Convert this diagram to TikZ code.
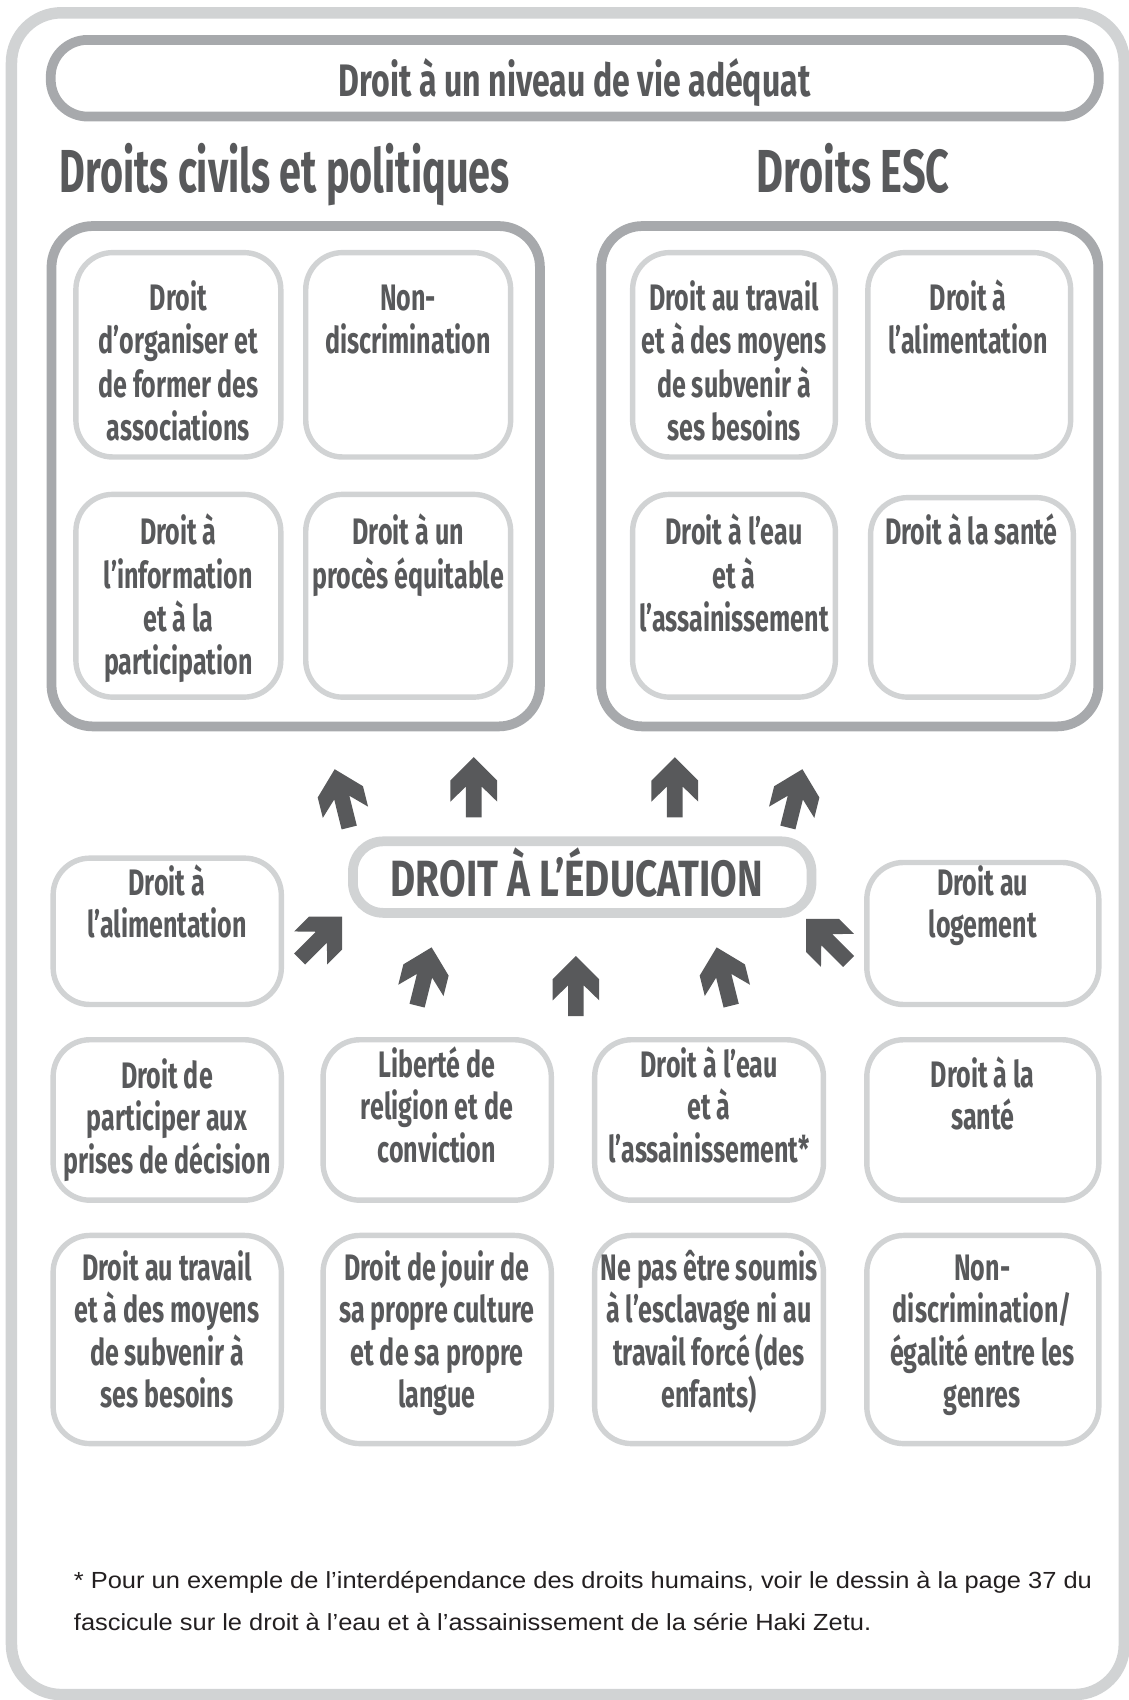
\documentclass[tikz,border=0pt]{standalone}
\usepackage{fontspec}
\usepackage{graphicx}
\newfontfamily\handfont[FakeStretch=0.68]{Fira Sans}
\newfontfamily\notefont{Liberation Sans}
\definecolor{lightg}{HTML}{D1D3D4}
\definecolor{midg}{HTML}{A7A9AC}
\definecolor{darkg}{HTML}{58595B}
\definecolor{notec}{HTML}{231F20}
\tikzset{
  frame/.style={draw=lightg,line width=10.6pt,rounded corners=46pt,inner sep=0pt,outer sep=0pt},
  banner/.style={draw=midg,line width=9pt,rounded corners=34pt,inner sep=0pt,outer sep=0pt},
  grp/.style={draw=midg,line width=9pt,rounded corners=38pt,inner sep=0pt,outer sep=0pt},
  cell/.style={draw=lightg,line width=5pt,rounded corners=34pt,inner sep=0pt,outer sep=0pt},
  edu/.style={draw=lightg,line width=9pt,rounded corners=28pt,inner sep=0pt,outer sep=0pt},
  lbl/.style={text=darkg,align=center,anchor=base,inner sep=0pt,font=\handfont\bfseries\fontsize{34}{40}\selectfont},
  lblb/.style={lbl,font=\handfont\bfseries\fontsize{34}{39}\selectfont},
  title/.style={text=darkg,anchor=base,inner sep=0pt,font=\handfont\bfseries\fontsize{56}{60}\selectfont},
  uparrow/.pic={\fill[darkg] (0pt,0pt) -- (21.5pt,-21.5pt) -- (21.5pt,-40.9pt) -- (7.2pt,-27pt) -- (7.2pt,-55.4pt) -- (-7.2pt,-55.4pt) -- (-7.2pt,-27pt) -- (-21.5pt,-40.9pt) -- (-21.5pt,-21.5pt) -- cycle;}
}
\begin{document}
\begin{tikzpicture}[x=1pt,y=-1pt]
\useasboundingbox (0,0) rectangle (1041,1568);
% outer frame
\node[frame,minimum width=1026.4pt,minimum height=1551.2pt] (frame) at (523.8,787.4) {};
% banner
\node[banner,minimum width=966.7pt,minimum height=70.7pt] (banner) at (530.15,72.15) {};
\node[title,font=\handfont\bfseries\fontsize{42}{46}\selectfont] (bannertxt) at (530,89) {\resizebox{435pt}{\height}{Droit à un niveau de vie adéquat}};
% titles
\node[title] (tcp) at (262.5,178) {\resizebox{415pt}{\height}{Droits civils et politiques}};
\node[title] (tesc) at (787,178) {\resizebox{178pt}{\height}{Droits ESC}};
% groups
\node[grp,minimum width=450.5pt,minimum height=461.5pt] (g1) at (272.75,439.25) {};
\node[grp,minimum width=458.5pt,minimum height=461.5pt] (g2) at (783.75,439.25) {};
% top cells
\node[cell,minimum width=189pt,minimum height=188.5pt] (c1) at (164.5,327.25) {};
\node[cell,minimum width=189pt,minimum height=188.5pt] (c2) at (376.5,327.25) {};
\node[cell,minimum width=189pt,minimum height=187pt] (c3) at (164.5,549.5) {};
\node[cell,minimum width=189pt,minimum height=187pt] (c4) at (376.5,549.5) {};
\node[cell,minimum width=187pt,minimum height=188.5pt] (c5) at (677,327.25) {};
\node[cell,minimum width=187pt,minimum height=188.5pt] (c6) at (894,327.25) {};
\node[cell,minimum width=187pt,minimum height=187pt] (c7) at (677,549.5) {};
\node[cell,minimum width=187pt,minimum height=184pt] (c8) at (896.5,551) {};
\node[lbl] (t1) at (164.5,406.5) {Droit\\d’organiser et\\de former des\\associations};
\node[lbl] (t2) at (376.5,326.5) {Non-\\discrimination};
\node[lbl] (t3) at (164.5,622.5) {Droit à\\l’information\\et à la\\participation};
\node[lbl] (t4) at (376.5,542.5) {Droit à un\\procès équitable};
\node[lbl] (t5) at (677,406.5) {Droit au travail\\et à des moyens\\de subvenir à\\ses besoins};
\node[lbl] (t6) at (893,326.5) {Droit à\\l’alimentation};
\node[lbl] (t7) at (677,582.5) {Droit à l’eau\\et à\\l’assainissement};
\node[lbl] (t8) at (896,502.5) {Droit à la santé};
% education
\node[edu,minimum width=423pt,minimum height=66pt] (edu) at (537,809) {};
\node[title,font=\handfont\bfseries\fontsize{47}{50}\selectfont] (edutxt) at (532,826.8) {\resizebox{343pt}{\height}{DROIT À L’ÉDUCATION}};
% arrows
\pic[rotate=14] at (308.7,709.5) {uparrow};
\pic at (437,698.4) {uparrow};
\pic at (622.4,698.4) {uparrow};
\pic[rotate=-14] at (740.1,709.5) {uparrow};
\pic[rotate=-45] at (315.5,845.4) {uparrow};
\pic[rotate=-14] at (398.1,873.8) {uparrow};
\pic at (531.2,881.8) {uparrow};
\pic[rotate=14] at (661,873.8) {uparrow};
\pic[rotate=45] at (743.5,847.6) {uparrow};
% bottom cells
\node[cell,minimum width=210.5pt,minimum height=135pt] (r1a) at (154.25,859) {};
\node[cell,minimum width=214pt,minimum height=131pt] (r1b) at (906.5,861) {};
\node[cell,minimum width=210.5pt,minimum height=148pt] (r2a) at (154.25,1033) {};
\node[cell,minimum width=210.5pt,minimum height=148pt] (r2b) at (403.25,1033) {};
\node[cell,minimum width=211pt,minimum height=148pt] (r2c) at (654,1033) {};
\node[cell,minimum width=214pt,minimum height=148pt] (r2d) at (906.5,1033) {};
\node[cell,minimum width=210.5pt,minimum height=192pt] (r3a) at (154.25,1235.5) {};
\node[cell,minimum width=210.5pt,minimum height=192pt] (r3b) at (403.25,1235.5) {};
\node[cell,minimum width=211pt,minimum height=192pt] (r3c) at (654,1235.5) {};
\node[cell,minimum width=214pt,minimum height=192pt] (r3d) at (906.5,1235.5) {};
\node[lblb] (s1a) at (154,864.5) {Droit à\\l’alimentation};
\node[lblb] (s1b) at (906.5,864.5) {Droit au\\logement};
\node[lblb] (s2a) at (154,1082) {Droit de\\participer aux\\prises de décision};
\node[lblb] (s2b) at (403,1072) {Liberté de\\religion et de\\conviction};
\node[lblb] (s2c) at (654,1072) {Droit à l’eau\\et à\\l’assainissement*};
\node[lblb] (s2d) at (906.5,1042) {Droit à la\\santé};
\node[lblb] (s3a) at (154,1298) {Droit au travail\\et à des moyens\\de subvenir à\\ses besoins};
\node[lblb] (s3b) at (403,1298) {Droit de jouir de\\sa propre culture\\et de sa propre\\langue};
\node[lblb] (s3c) at (654,1298) {Ne pas être soumis\\à l’esclavage ni au\\travail forcé (des\\enfants)};
\node[lblb] (s3d) at (906,1298) {Non-\\discrimination/\\égalité entre les\\genres};
% footnote
\node[anchor=base west,inner sep=0pt,text=notec,font=\notefont\fontsize{21.5}{39}\selectfont] (note) at (68,1465)
  {\resizebox{939pt}{\height}{\begin{tabular}[t]{@{}l@{}}* Pour un exemple de l’interdépendance des droits humains, voir le dessin à la page 37 du\\fascicule sur le droit à l’eau et à l’assainissement de la série Haki Zetu.\end{tabular}}};
\end{tikzpicture}
\end{document}
